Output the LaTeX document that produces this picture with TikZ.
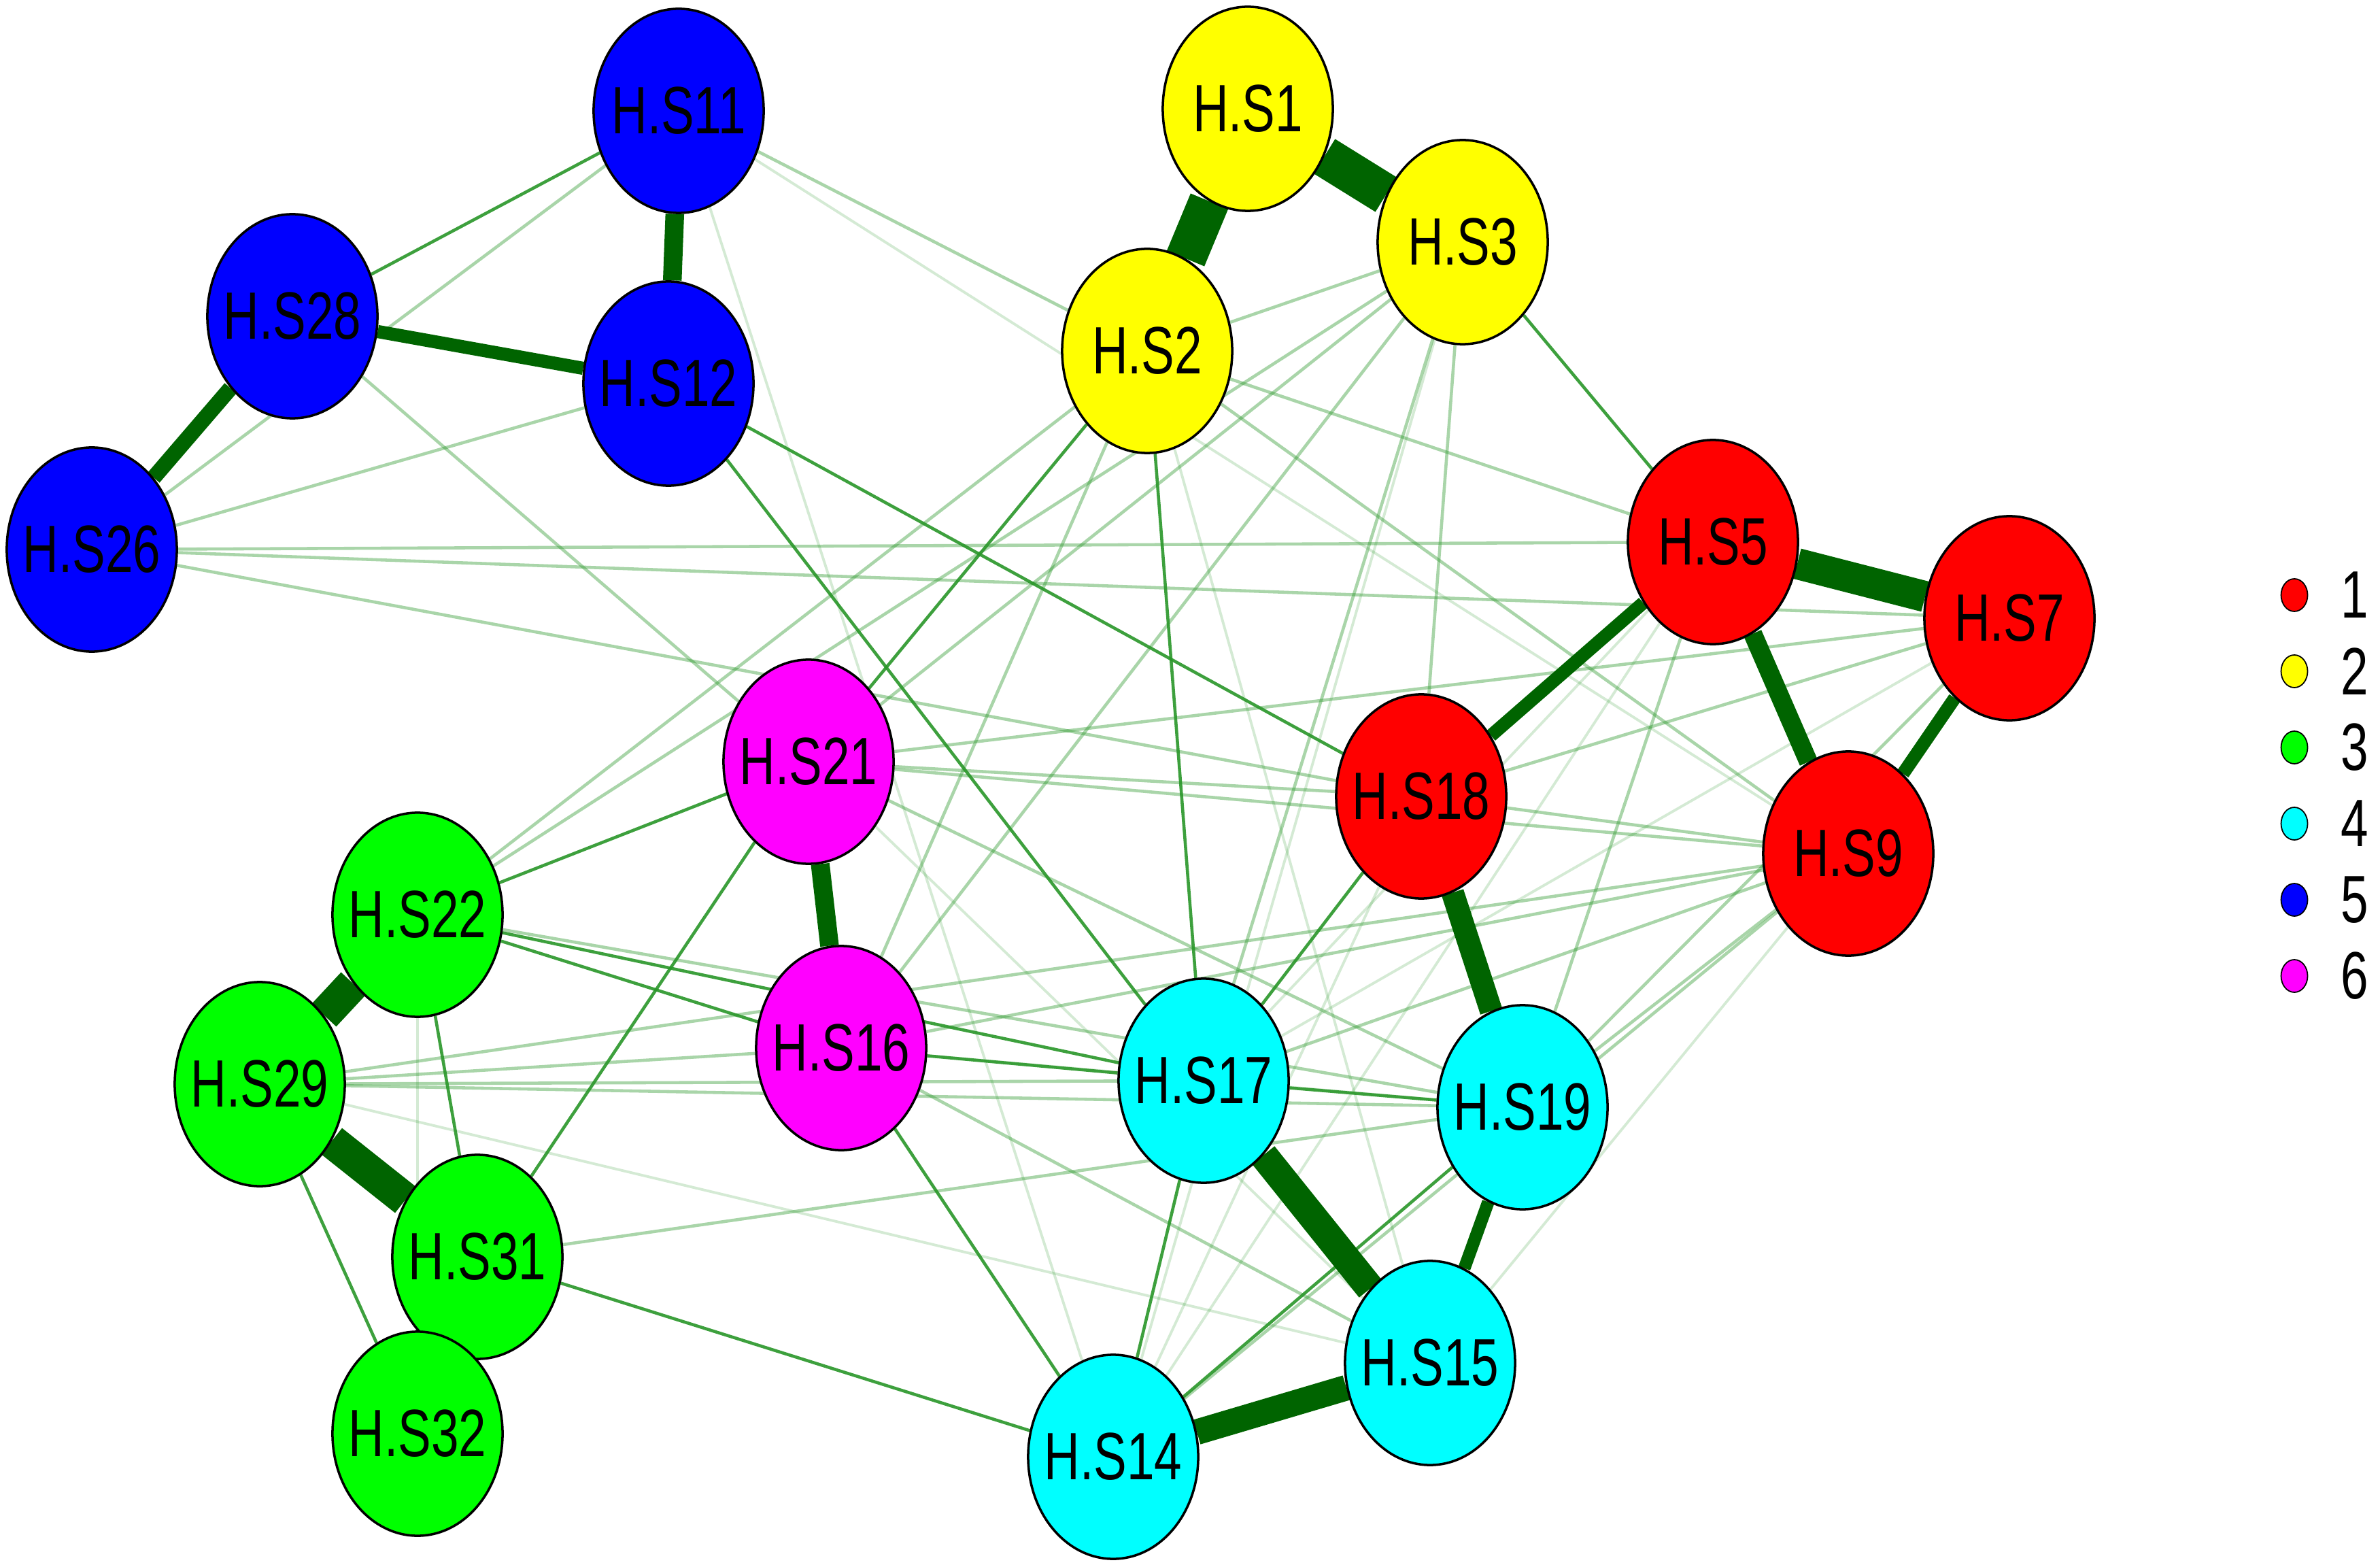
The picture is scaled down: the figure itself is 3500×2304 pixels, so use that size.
\documentclass[tikz,border=0pt]{standalone}
\usepackage{fontspec}
\setmainfont{Liberation Sans}
\usetikzlibrary{shapes.geometric, backgrounds}
\definecolor{hsred}{RGB}{255,0,0}
\definecolor{hsyel}{RGB}{255,255,0}
\definecolor{hsgrn}{RGB}{0,255,0}
\definecolor{hscyan}{RGB}{0,255,255}
\definecolor{hsblue}{RGB}{0,0,255}
\definecolor{hsmag}{RGB}{255,0,255}
\definecolor{edark}{RGB}{0,100,0}
\definecolor{emid}{RGB}{40,150,40}
\newcommand{\nlab}[1]{\makebox[0pt]{\scalebox{0.74}[1]{#1}}}
\tikzset{
	hs/.style={
		ellipse,
		draw,
		line width=1pt,
		minimum width=2.5cm,
		minimum height=3cm,
		inner sep=0pt,
		font=\fontsize{28}{32}\selectfont,
	},
	legdot/.style={
		ellipse,
		draw,
		line width=0.5pt,
		minimum width=0.39cm,
		minimum height=0.48cm,
		inner sep=0pt,
	},
	legtext/.style={
		font=\fontsize{28}{32}\selectfont,
		inner sep=0pt,
	},
	heavy/.style={draw=edark, line width=#1},
	medium/.style={draw=emid, line width=1.3pt, opacity=.9},
	weak/.style={draw=emid, line width=1.3pt, opacity=.4},
	faint/.style={draw=emid, line width=1.1pt, opacity=.2},
}
\begin{document}
\begin{tikzpicture}[x=0.01cm, y=-0.01cm]
		\useasboundingbox (0,0) rectangle (3500,2304);
		
		% cluster 5
		\node [hs, fill=hsblue] (s11) at (998,163) {\nlab{H.S11}};
		\node [hs, fill=hsblue] (s28) at (430,465) {\nlab{H.S28}};
		\node [hs, fill=hsblue] (s12) at (983,564) {\nlab{H.S12}};
		\node [hs, fill=hsblue] (s26) at (135,808) {\nlab{H.S26}};
		% cluster 2
		\node [hs, fill=hsyel] (s1) at (1835,160) {\nlab{H.S1}};
		\node [hs, fill=hsyel] (s3) at (2151,356) {\nlab{H.S3}};
		\node [hs, fill=hsyel] (s2) at (1687,516) {\nlab{H.S2}};
		% cluster 1
		\node [hs, fill=hsred] (s5) at (2519,797) {\nlab{H.S5}};
		\node [hs, fill=hsred] (s7) at (2955,909) {\nlab{H.S7}};
		\node [hs, fill=hsred] (s18) at (2090,1171) {\nlab{H.S18}};
		\node [hs, fill=hsred] (s9) at (2718,1255) {\nlab{H.S9}};
		% cluster 6
		\node [hs, fill=hsmag] (s21) at (1189,1120) {\nlab{H.S21}};
		\node [hs, fill=hsmag] (s16) at (1237,1541) {\nlab{H.S16}};
		% cluster 3
		\node [hs, fill=hsgrn] (s22) at (614,1345) {\nlab{H.S22}};
		\node [hs, fill=hsgrn] (s29) at (382,1594) {\nlab{H.S29}};
		\node [hs, fill=hsgrn] (s31) at (702,1848) {\nlab{H.S31}};
		\node [hs, fill=hsgrn] (s32) at (614,2108) {\nlab{H.S32}};
		% cluster 4
		\node [hs, fill=hscyan] (s17) at (1770,1589) {\nlab{H.S17}};
		\node [hs, fill=hscyan] (s19) at (2239,1628) {\nlab{H.S19}};
		\node [hs, fill=hscyan] (s15) at (2103,2004) {\nlab{H.S15}};
		\node [hs, fill=hscyan] (s14) at (1637,2142) {\nlab{H.S14}};
		
		% legend
		\node [legdot, fill=hsred] (k1) at (3374,875) {};
		\node [legdot, fill=hsyel] (k2) at (3374,987) {};
		\node [legdot, fill=hsgrn] (k3) at (3374,1099) {};
		\node [legdot, fill=hscyan] (k4) at (3374,1211) {};
		\node [legdot, fill=hsblue] (k5) at (3374,1323) {};
		\node [legdot, fill=hsmag] (k6) at (3374,1435) {};
		\node [legtext] (t1) at (3463,875) {\nlab{1}};
		\node [legtext] (t2) at (3463,987) {\nlab{2}};
		\node [legtext] (t3) at (3463,1099) {\nlab{3}};
		\node [legtext] (t4) at (3463,1211) {\nlab{4}};
		\node [legtext] (t5) at (3463,1323) {\nlab{5}};
		\node [legtext] (t6) at (3463,1435) {\nlab{6}};
		
		\begin{pgfonlayer}{background}
		% faint links
		\draw [faint] (s11) -- (s14);
		\draw [faint] (s11) -- (s9);
		\draw [faint] (s3) -- (s14);
		\draw [faint] (s9) -- (s15);
		\draw [faint] (s2) -- (s15);
		\draw [faint] (s5) -- (s14);
		\draw [faint] (s29) -- (s15);
		\draw [faint] (s22) -- (s32);
		\draw [faint] (s21) -- (s15);
		\draw [faint] (s16) -- (s19);
		\draw [faint] (s17) -- (s7);
		\draw [faint] (s18) -- (s14);
		\draw [faint] (s5) -- (s17);
		% weak links
		\draw [weak] (s11) -- (s2);
		\draw [weak] (s11) -- (s26);
		\draw [weak] (s12) -- (s26);
		\draw [weak] (s28) -- (s21);
		\draw [weak] (s2) -- (s3);
		\draw [weak] (s2) -- (s5);
		\draw [weak] (s2) -- (s9);
		\draw [weak] (s26) -- (s5);
		\draw [weak] (s26) -- (s7);
		\draw [weak] (s26) -- (s18);
		\draw [weak] (s21) -- (s18);
		\draw [weak] (s21) -- (s9);
		\draw [weak] (s21) -- (s7);
		\draw [weak] (s21) -- (s19);
		\draw [weak] (s3) -- (s21);
		\draw [weak] (s3) -- (s22);
		\draw [weak] (s3) -- (s16);
		\draw [weak] (s3) -- (s18);
		\draw [weak] (s3) -- (s17);
		\draw [weak] (s2) -- (s22);
		\draw [weak] (s2) -- (s16);
		\draw [weak] (s16) -- (s9);
		\draw [weak] (s16) -- (s15);
		\draw [weak] (s29) -- (s9);
		\draw [weak] (s29) -- (s16);
		\draw [weak] (s29) -- (s17);
		\draw [weak] (s29) -- (s19);
		\draw [weak] (s31) -- (s19);
		\draw [weak] (s22) -- (s19);
		\draw [weak] (s18) -- (s7);
		\draw [weak] (s18) -- (s9);
		\draw [weak] (s17) -- (s9);
		\draw [weak] (s19) -- (s9);
		\draw [weak] (s19) -- (s7);
		\draw [weak] (s5) -- (s19);
		\draw [weak] (s14) -- (s9);
		% medium links
		\draw [medium] (s11) -- (s28);
		\draw [medium] (s3) -- (s5);
		\draw [medium] (s12) -- (s18);
		\draw [medium] (s12) -- (s17);
		\draw [medium] (s2) -- (s17);
		\draw [medium] (s2) -- (s21);
		\draw [medium] (s18) -- (s17);
		\draw [medium] (s21) -- (s22);
		\draw [medium] (s21) -- (s31);
		\draw [medium] (s22) -- (s16);
		\draw [medium] (s22) -- (s17);
		\draw [medium] (s22) -- (s31);
		\draw [medium] (s16) -- (s17);
		\draw [medium] (s16) -- (s14);
		\draw [medium] (s17) -- (s14);
		\draw [medium] (s17) -- (s19);
		\draw [medium] (s31) -- (s14);
		\draw [medium] (s29) -- (s32);
		\draw [medium] (s14) -- (s19);
		% heavy links
		\draw [heavy=7.8pt] (s11) -- (s12);
		\draw [heavy=5.5pt] (s28) -- (s12);
		\draw [heavy=6.5pt] (s28) -- (s26);
		\draw [heavy=17pt] (s1) -- (s2);
		\draw [heavy=17pt] (s1) -- (s3);
		\draw [heavy=13pt] (s5) -- (s7);
		\draw [heavy=7.8pt] (s5) -- (s9);
		\draw [heavy=5.5pt] (s7) -- (s9);
		\draw [heavy=5.5pt] (s5) -- (s18);
		\draw [heavy=9.5pt] (s18) -- (s19);
		\draw [heavy=12pt] (s17) -- (s15);
		\draw [heavy=5.2pt] (s19) -- (s15);
		\draw [heavy=10.7pt] (s15) -- (s14);
		\draw [heavy=7.8pt] (s21) -- (s16);
		\draw [heavy=14pt] (s22) -- (s29);
		\draw [heavy=14pt] (s29) -- (s31);
		\end{pgfonlayer}
	\end{tikzpicture}
\end{document}
